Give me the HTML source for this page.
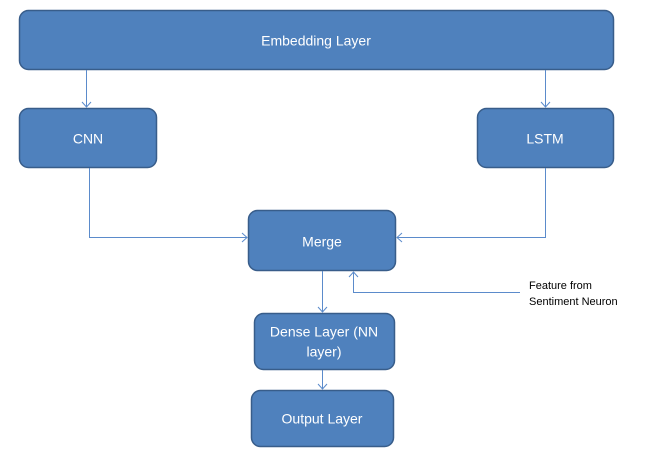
<!DOCTYPE html>
<html><head><style>
body{margin:0;background:#fff;}
svg text{font-family:"Liberation Sans",sans-serif;fill:#fff;font-size:14px;text-anchor:middle;dominant-baseline:middle;}
</style></head><body>
<svg width="650" height="468" viewBox="0 0 650 468" xmlns="http://www.w3.org/2000/svg">
<g fill="#4f81bd" stroke="#385d8a" stroke-width="1.5">
<rect x="19.5" y="10.5" width="594" height="59" rx="9"/>
<rect x="19.5" y="108.5" width="137" height="59" rx="9"/>
<rect x="477.5" y="108.5" width="136" height="59" rx="9"/>
<rect x="248.5" y="210.5" width="147" height="60" rx="9"/>
<rect x="254.5" y="313.5" width="140" height="56" rx="9"/>
<rect x="251.5" y="390.5" width="142" height="56" rx="9"/>
</g>
<g fill="none" stroke="#5b8bcb" stroke-width="1">
<path d="M86.5 70 V107 M82 102 L86.5 107 L91 102"/>
<path d="M545.5 70 V107 M541 102 L545.5 107 L550 102"/>
<path d="M89.5 168 V237.5 H247 M242 233 L247 237.5 L242 242"/>
<path d="M545.5 168 V237.5 H397 M402 233 L397 237.5 L402 242"/>
<path d="M520 292.5 H353.5 V272 M349 277 L353.5 272 L358 277"/>
<path d="M322.5 271 V312 M318 307 L322.5 312 L327 307"/>
<path d="M322.5 370 V389 M318 384 L322.5 389 L327 384"/>
</g>
<text x="316" y="42">Embedding Layer</text>
<text x="88" y="140">CNN</text>
<text x="545" y="140">LSTM</text>
<text x="322" y="243">Merge</text>
<text x="324" y="333">Dense Layer (NN</text>
<text x="324" y="353">layer)</text>
<text x="322" y="420">Output Layer</text>
<text x="529" y="286" style="fill:#000;font-size:11px;text-anchor:start">Feature from</text>
<text x="529" y="302" style="fill:#000;font-size:11px;text-anchor:start">Sentiment Neuron</text>
</svg>
</body></html>
